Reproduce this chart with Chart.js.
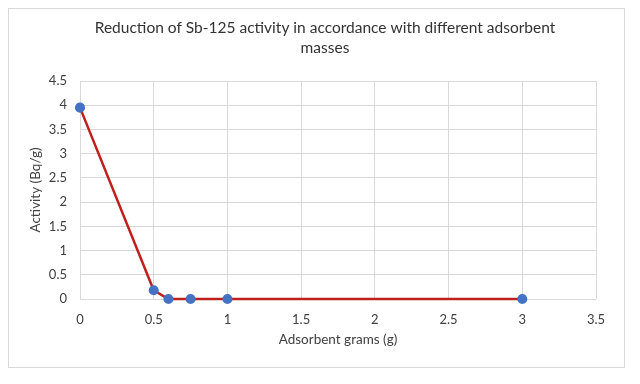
<!DOCTYPE html>
<html>
<head>
<meta charset="utf-8">
<script src="https://cdn.jsdelivr.net/npm/chart.js@4"></script>
<style>
  html, body { margin: 0; padding: 0; background: #fff; }
  #wrap { position: relative; width: 640px; height: 384px; }
  #frame { position: absolute; left: 8px; top: 8px; width: 615px; height: 358px; border: 1px solid #d9d9d9; }
  #chart { position: absolute; left: 0; top: 0; }
</style>
</head>
<body>
<div id="wrap">
  <div id="frame"></div>
  <canvas id="chart" width="640" height="384"></canvas>
</div>
<script>
const grams = [0, 0.5, 0.6, 0.75, 1, 3];          // x, adsorbent mass (g)
const activity = [3.95, 0.18, 0, 0, 0, 0];        // y, Bq/g
const titleLines = ['Reduction of Sb-125 activity in accordance with different adsorbent', 'masses'];

const FONT = "Lato, 'Open Sans', sans-serif";
const TEXT = '#404040';
const GRID = '#d9d9d9';

const pts = grams.map((g, i) => ({ x: g, y: activity[i] }));

// title centred over the frame rather than the chart area
const titlePlugin = {
  id: 'frameTitle',
  afterDraw(chart) {
    const ctx = chart.ctx;
    ctx.save();
    ctx.fillStyle = '#333333';
    ctx.font = '15.5px ' + FONT;
    ctx.textAlign = 'center';
    ctx.textBaseline = 'middle';
    titleLines.forEach((t, i) => ctx.fillText(t, 325, 28 + i * 20));
    ctx.restore();
  }
};

const fmt = v => String(+v.toFixed(1));

new Chart(document.getElementById('chart'), {
  type: 'scatter',
  data: {
    datasets: [{
      data: pts,
      showLine: true,
      clip: false,
      borderColor: '#c0201c',
      borderWidth: 2.5,
      tension: 0,
      pointBackgroundColor: '#4472c4',
      pointBorderColor: '#4472c4',
      pointRadius: 3.8
    }]
  },
  plugins: [titlePlugin],
  options: {
    responsive: false,
    animation: false,
    layout: { padding: { left: 24, right: 44, top: 81, bottom: 32 } },
    plugins: {
      legend: { display: false },
      tooltip: { enabled: false },
      title: { display: false }
    },
    scales: {
      x: {
        type: 'linear',
        min: 0, max: 3.5,
        ticks: { stepSize: 0.5, color: TEXT, font: { family: FONT, size: 13 }, padding: 13, callback: fmt },
        grid: { color: GRID, drawTicks: false },
        border: { display: false },
        title: { display: true, text: 'Adsorbent grams (g)', color: TEXT, font: { family: FONT, size: 13.5 } },
        afterFit: s => { s.height = 53; }
      },
      y: {
        min: 0, max: 4.5,
        ticks: { stepSize: 0.5, color: TEXT, font: { family: FONT, size: 13 }, padding: 13, callback: fmt },
        grid: { color: GRID, drawTicks: false },
        border: { display: false },
        title: { display: true, text: 'Activity (Bq/g)', color: TEXT, font: { family: FONT, size: 13.5 } },
        afterFit: s => { s.width = 56; }
      }
    }
  }
});
</script>
</body>
</html>
